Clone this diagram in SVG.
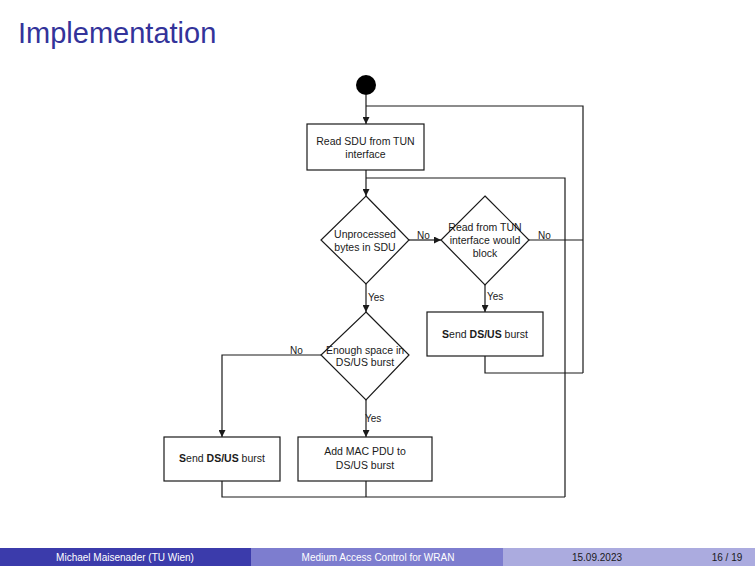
<svg xmlns="http://www.w3.org/2000/svg" width="755" height="566" viewBox="0 0 755 566">
<defs>
<style>
.ln{fill:none;stroke:#1a1a1a;stroke-width:1.2}
.nd{fill:#ffffff;stroke:#1a1a1a;stroke-width:1.2}
.t{font-family:"Liberation Sans",Arial,sans-serif;font-size:10.5px;fill:#1a1a1a;text-anchor:middle}
.lb{font-family:"Liberation Sans",Arial,sans-serif;font-size:10px;fill:#1a1a1a}
.b{font-weight:bold}
.ft{font-family:"Liberation Sans",Arial,sans-serif;font-size:10px;text-anchor:middle}
</style>
<marker id="ah" viewBox="0 0 10 10" refX="10" refY="5" markerWidth="7" markerHeight="7" markerUnits="userSpaceOnUse" orient="auto">
<path d="M0,0 L10,5 L0,10 z" fill="#1a1a1a"/>
</marker>
</defs>
<rect width="755" height="566" fill="#ffffff"/>
<text x="18" y="43" font-family="Liberation Sans,Arial,sans-serif" font-size="29" fill="#33339a">Implementation</text>

<g id="connectors">
<path class="ln" d="M366,95 V124" marker-end="url(#ah)"/>
<path class="ln" d="M366,106 H583 V373"/>
<path class="ln" d="M366,170 V196" marker-end="url(#ah)"/>
<path class="ln" d="M366,178 H565 V497"/>
<path class="ln" d="M409,240 H441" marker-end="url(#ah)"/>
<path class="ln" d="M529,240 H583"/>
<path class="ln" d="M485,285 V312" marker-end="url(#ah)"/>
<path class="ln" d="M485,356 V373 H583"/>
<path class="ln" d="M366,284 V312" marker-end="url(#ah)"/>
<path class="ln" d="M321,355 H222 V437" marker-end="url(#ah)"/>
<path class="ln" d="M366,400 V437" marker-end="url(#ah)"/>
<path class="ln" d="M222,481 V497 H565"/>
<path class="ln" d="M366,481 V497"/>
<text class="lb" x="417" y="239">No</text>
<text class="lb" x="538" y="239">No</text>
<text class="lb" x="368" y="301">Yes</text>
<text class="lb" x="487" y="300">Yes</text>
<text class="lb" x="290" y="354">No</text>
<text class="lb" x="365" y="422">Yes</text>
</g>

<g id="start">
<circle cx="366" cy="85" r="10" fill="#000000"/>
</g>

<g id="read-sdu">
<rect class="nd" x="307" y="124" width="117" height="46"/>
<text class="t" x="365.5" y="145">Read SDU from TUN</text>
<text class="t" x="365.5" y="158">interface</text>
</g>

<g id="unprocessed">
<polygon class="nd" points="366,196 409,240 366,284 321,240"/>
<text class="t" x="365" y="238">Unprocessed</text>
<text class="t" x="365" y="251">bytes in SDU</text>
</g>

<g id="would-block">
<polygon class="nd" points="485,196 529,240 485,285 441,240"/>
<text class="t" x="485" y="231">Read from TUN</text>
<text class="t" x="485" y="244">interface would</text>
<text class="t" x="485" y="257">block</text>
</g>

<g id="send-right">
<rect class="nd" x="427" y="312" width="116" height="44"/>
<text class="t" x="485" y="338"><tspan class="b">S</tspan>end <tspan class="b">DS/US</tspan> burst</text>
</g>

<g id="enough-space">
<polygon class="nd" points="366,312 409,355 366,400 321,355"/>
<text class="t" x="365" y="354">Enough space in</text>
<text class="t" x="365" y="366">DS/US burst</text>
</g>

<g id="send-left">
<rect class="nd" x="164" y="437" width="116" height="44"/>
<text class="t" x="222" y="462"><tspan class="b">S</tspan>end <tspan class="b">DS/US</tspan> burst</text>
</g>

<g id="add-mac">
<rect class="nd" x="298" y="437" width="134" height="44"/>
<text class="t" x="365" y="455">Add MAC PDU to</text>
<text class="t" x="365" y="469">DS/US burst</text>
</g>

<g id="footer">
<rect x="0" y="548" width="252" height="18" fill="#3b3bab"/>
<rect x="251" y="548" width="252" height="18" fill="#7d7dcf"/>
<rect x="503" y="548" width="252" height="18" fill="#ababdf"/>
<text class="ft" x="125" y="561" fill="#ffffff">Michael Maisenader  (TU Wien)</text>
<text class="ft" x="378" y="561" fill="#ffffff">Medium Access Control for WRAN</text>
<text class="ft" x="597" y="561" fill="#1a1a1a">15.09.2023</text>
<text class="ft" x="727" y="561" fill="#1a1a1a">16 / 19</text>
</g>
</svg>
